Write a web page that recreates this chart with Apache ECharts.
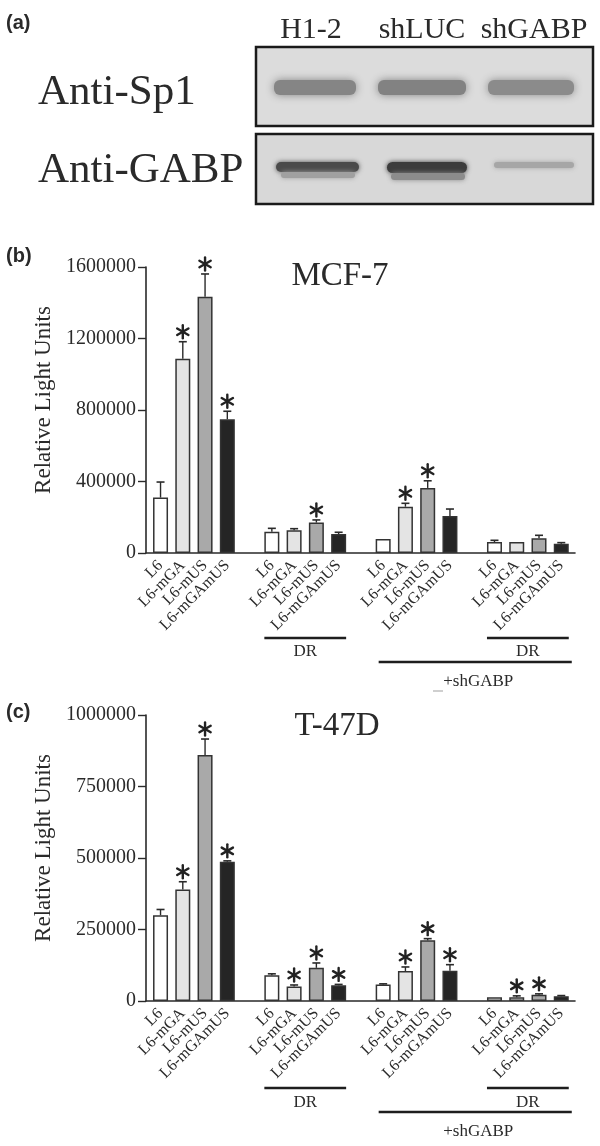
<!DOCTYPE html>
<html><head><meta charset="utf-8">
<script src="https://cdn.jsdelivr.net/npm/echarts@6/dist/echarts.min.js"></script>
<style>html,body{margin:0;padding:0;background:#fff}#c{width:600px;height:1146px}</style>
</head><body><div id="c"></div>
<script>
// ---------- data ----------
const categories = ['L6','L6-mGA','L6-mUS','L6-mGAmUS','',
                    'L6','L6-mGA','L6-mUS','L6-mGAmUS',' ',
                    'L6','L6-mGA','L6-mUS','L6-mGAmUS','  ',
                    'L6','L6-mGA','L6-mUS','L6-mGAmUS'];
const mcf7Values = [310000,1087000,1434000,748000,null, 119000,127000,170000,106000,null, 78000,259000,364000,207000,null, 61500,61500,82000,52000];
const mcf7Errors = [87000,95000,127000,45000,null, 19000,9000,15000,10000,null, 0,19000,40000,39000,null, 9500,0,17000,6000];
const mcf7Signif = [0,1,1,1,0, 0,0,1,0,0, 0,1,1,0,0, 0,0,0,0];
const t47dValues = [300000,390000,860000,487000,null, 90000,51000,116000,55000,null, 58000,105000,212000,106000,null, 13000,13000,22000,17000];
const t47dErrors = [20000,27000,56000,3000,null, 5000,5000,17000,3000,null, 2000,14000,6000,21000,null, 0,5000,3000,2000];
const t47dSignif = [0,1,1,1,0, 0,1,1,1,0, 0,1,1,1,0, 0,1,1,0];
const mcf7Ticks = [0, 1600000, 400000];   // min, max, interval
const t47dTicks = [0, 1000000, 250000];
const panelTitles = ['MCF-7','T-47D'];
const blotLanes = ['H1-2','shLUC','shGABP'];
const blotRows = ['Anti-Sp1','Anti-GABP'];
const groupLabels = ['DR','+shGABP'];
const yName = 'Relative Light Units';

// ---------- styles ----------
const SERIF = '"Liberation Serif", "Times New Roman", serif';
const INK = '#2a2a2a';
const barFills = ['#ffffff','#e4e4e4','#a9a9a9','#252525'];

const chart = echarts.init(document.getElementById('c'), null, {renderer:'canvas'});

function barData(vals){
  return vals.map((v,i)=> v==null ? null : {value:v, itemStyle:{color:barFills[i%5]}});
}
function errData(vals, errs, sig){
  const out=[];
  vals.forEach((v,i)=>{ if(v!=null) out.push([i, v, errs[i], sig[i]]); });
  return out;
}
function renderErr(params, api){
  const x=api.value(0), v=api.value(1), e=api.value(2), s=api.value(3);
  const base=api.coord([x,v]), top=api.coord([x,v+e]);
  const ch=[];
  if(e>0){
    ch.push({type:'line',shape:{x1:base[0],y1:base[1],x2:top[0],y2:top[1]},style:{stroke:INK,lineWidth:1.4}});
    ch.push({type:'line',shape:{x1:top[0]-4,y1:top[1],x2:top[0]+4,y2:top[1]},style:{stroke:INK,lineWidth:1.6}});
  }
  if(s){
    const cx=top[0], cy=top[1]-10, r=6.5;
    [90,30,-30].forEach(a=>{
      const rad=a*Math.PI/180;
      ch.push({type:'line',shape:{x1:cx-r*Math.cos(rad),y1:cy+r*Math.sin(rad),x2:cx+r*Math.cos(rad),y2:cy-r*Math.sin(rad)},
        style:{stroke:'#222',lineWidth:2.4,lineCap:'round'}});
    });
  }
  return {type:'group',children:ch};
}

const panels = [
  {top:267, vals:mcf7Values, errs:mcf7Errors, sig:mcf7Signif, ticks:mcf7Ticks},
  {top:715, vals:t47dValues, errs:t47dErrors, sig:t47dSignif, ticks:t47dTicks}
];
const H = 286;

const grid=[], xAxis=[], yAxis=[], series=[];
panels.forEach((p,k)=>{
  const gBar = grid.length, gAx = grid.length+1;
  grid.push({left:149.4, top:p.top, width:423, height:H});
  grid.push({left:146, top:p.top, width:429, height:H});
  xAxis.push({gridIndex:gBar, type:'category', data:categories, boundaryGap:true,
    axisLine:{show:false}, axisTick:{show:false},
    axisLabel:{interval:0, rotate:45, margin:10, fontFamily:SERIF, fontSize:16, color:INK}});
  xAxis.push({gridIndex:gAx, type:'value', min:0, max:1,
    axisLine:{show:true, lineStyle:{color:INK, width:1.6}}, axisTick:{show:false}, axisLabel:{show:false}, splitLine:{show:false}});
  yAxis.push({gridIndex:gBar, type:'value', min:p.ticks[0], max:p.ticks[1], show:false});
  yAxis.push({gridIndex:gAx, type:'value', min:p.ticks[0], max:p.ticks[1], interval:p.ticks[2],
    axisLine:{show:true, lineStyle:{color:INK, width:1.6}},
    axisTick:{show:true, length:8, lineStyle:{color:INK, width:1.4}},
    axisLabel:{margin:10, fontFamily:SERIF, fontSize:20, color:INK, formatter: v => String(v)},
    splitLine:{show:false},
    name:yName, nameLocation:'middle', nameGap:82,
    nameTextStyle:{fontFamily:SERIF, fontSize:23, color:INK, padding:[0,0,0,20]}});
  series.push({type:'bar', xAxisIndex:xAxis.length-2, yAxisIndex:yAxis.length-2, data:barData(p.vals),
    barWidth:15, itemStyle:{borderColor:'#333', borderWidth:1.5}, z:2});
  series.push({type:'custom', xAxisIndex:xAxis.length-2, yAxisIndex:yAxis.length-2, data:errData(p.vals,p.errs,p.sig),
    encode:{x:0,y:1}, renderItem:renderErr, z:3});
});

chart.setOption({animation:false, backgroundColor:'#fff', grid, xAxis, yAxis, series});

// ---------- annotations ----------
function T(text, x, y, size, align, font){
  return {type:'text', x, y, z:10, style:{text, font: font || (size+'px '+SERIF), fill:INK, align:align||'center', verticalAlign:'middle'}};
}
function L(x1,y1,x2,y2,w,c){ return {type:'line', z:10, shape:{x1,y1,x2,y2}, style:{stroke:c||'#1e1e1e', lineWidth:w||2.6}}; }
function band(x,y,w,h,c,blur){ return {type:'rect', z:6, shape:{x,y,width:w,height:h,r:Math.min(6,h/2)}, style:{fill:c, shadowBlur:blur, shadowColor:c}}; }

const g=[];
// panel labels
const PL='bold 20px "Liberation Sans", Arial, sans-serif';
g.push(T('(a)',6,23,20,'left',PL));
g.push(T('(b)',6,256,20,'left',PL));
g.push(T('(c)',6,712,20,'left',PL));
// blot
g.push(T(blotLanes[0],311,29.8,30)); g.push(T(blotLanes[1],422,29.8,30)); g.push(T(blotLanes[2],534,29.8,30));
g.push(T(blotRows[0],38,92.4,43,'left')); g.push(T(blotRows[1],38,170.4,43,'left'));
g.push({type:'rect', z:5, shape:{x:256,y:47,width:337,height:79}, style:{fill:'#dcdcdc', stroke:'#1a1a1a', lineWidth:2.5}});
g.push({type:'rect', z:5, shape:{x:256,y:134,width:337,height:70}, style:{fill:'#d8d8d8', stroke:'#1a1a1a', lineWidth:2.5}});
g.push(band(274,80,82,15,'#858585',9)); g.push(band(378,80,88,15,'#828282',9)); g.push(band(488,80,86,15,'#8b8b8b',9));
g.push(band(276,162,83,10,'#4a4a4a',5)); g.push(band(281,172,74,6,'#a0a0a0',5));
g.push(band(387,162,80,11,'#3c3c3c',5)); g.push(band(391,173,74,7,'#8c8c8c',5));
g.push(band(494,162,80,6,'#a6a6a6',5));
// titles
g.push(T(panelTitles[0],340,276.8,33)); g.push(T(panelTitles[1],337,726.8,33));
// group brackets
const offs=[[85,104,109,134],[87,107,111,136]];
panels.forEach((p,k)=>{
  const xi = k*2, bottom=p.top+H, o=offs[k];
  const cx = i => chart.convertToPixel({xAxisIndex:xi}, i);
  const a1=cx(5)-7.5, a2=cx(8)+7.5, b1=cx(15)-7.5, b2=cx(18)+7.5, s1=cx(10)-7.5+3, s2=cx(18)+7.5+3;
  g.push(L(a1,bottom+o[0],a2,bottom+o[0])); g.push(T(groupLabels[0],(a1+a2)/2,bottom+o[1]-5.8,17));
  g.push(L(b1,bottom+o[0],b2,bottom+o[0])); g.push(T(groupLabels[0],(b1+b2)/2,bottom+o[1]-5.8,17));
  g.push(L(s1,bottom+o[2],s2,bottom+o[2])); g.push(T(groupLabels[1],(s1+s2)/2+3,bottom+o[3]-5.8,17));
});
g.push(L(433,691,443,691,2,'#cfcfcf'));
chart.setOption({graphic:{elements:g}});
</script></body></html>
